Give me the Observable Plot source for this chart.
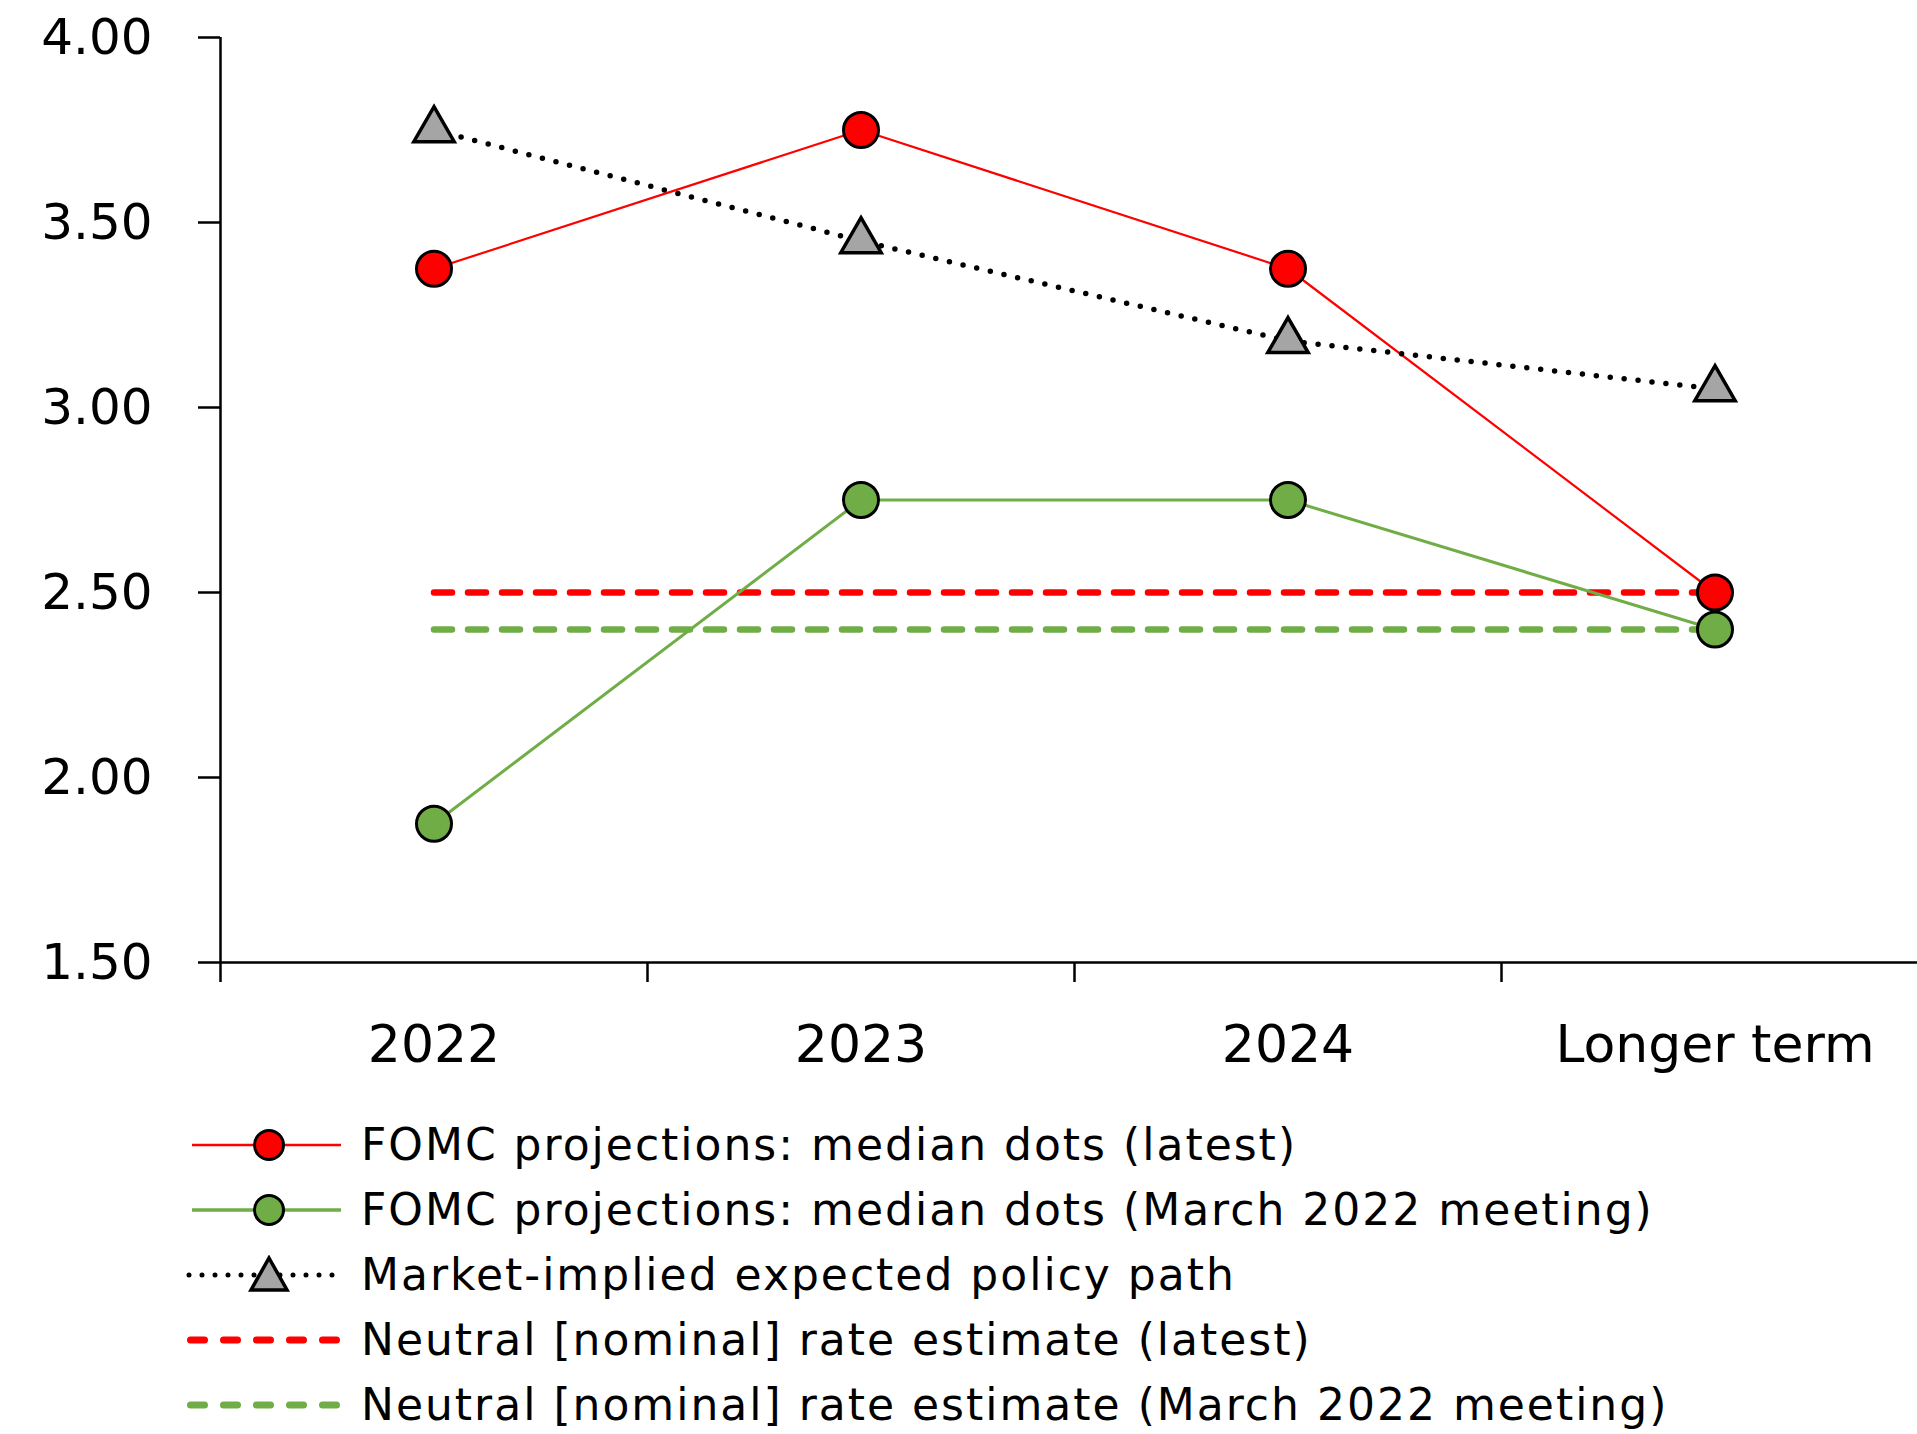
<!DOCTYPE html>
<html><head><meta charset="utf-8">
<script src="https://cdn.jsdelivr.net/npm/d3@7"></script>
<script src="https://cdn.jsdelivr.net/npm/@observablehq/plot@0.6"></script>
<style>
body{margin:0;background:#fff;font-family:"DejaVu Sans",sans-serif;color:#000;}
#legend{margin-top:12px;}
.row{display:flex;align-items:center;height:65px;}
.row svg{margin-left:186px;flex:none;}
.row span{margin-left:15px;font-size:44px;letter-spacing:2px;white-space:nowrap;}
</style></head><body>
<div id="chart"></div>
<div id="legend"></div>
<script>
const categories = ["2022", "2023", "2024", "Longer term"];
const fomcLatest = [3.375, 3.75, 3.375, 2.5];
const fomcMarch = [1.875, 2.75, 2.75, 2.4];
const marketPath = [3.75, 3.45, 3.18, 3.05];
const neutralLatest = [2.5, 2.5, 2.5, 2.5];
const neutralMarch = [2.4, 2.4, 2.4, 2.4];
const yTicks = [1.5, 2, 2.5, 3, 3.5, 4];
const legendLabels = [
  "FOMC projections: median dots (latest)",
  "FOMC projections: median dots (March 2022 meeting)",
  "Market-implied expected policy path",
  "Neutral [nominal] rate estimate (latest)",
  "Neutral [nominal] rate estimate (March 2022 meeting)"
];

const RED = "#ff0000", GREEN = "#70ad47", GRAY = "#a5a5a5";
const rows = categories.map((c, i) => ({
  cat: c, latest: fomcLatest[i], march: fomcMarch[i], market: marketPath[i],
  nLatest: neutralLatest[i], nMarch: neutralMarch[i]
}));

const W = 1917, H = 1100;
const xRange = [220, 1928];
const bw = (xRange[1] - xRange[0]) / categories.length;

const chart = Plot.plot({
  width: W, height: H,
  marginLeft: 220, marginRight: 0, marginTop: 37, marginBottom: 138,
  style: {fontFamily: "DejaVu Sans", color: "#000", background: "#fff"},
  x: {type: "band", domain: categories, range: xRange, padding: 0},
  y: {domain: [yTicks[0], yTicks[yTicks.length - 1]]},
  marks: [
    Plot.axisY(yTicks, {tickSize: 22, tickPadding: 46, tickFormat: d3.format(".2f"),
      fontSize: 50, strokeWidth: 2.5, label: null, style: {letterSpacing: "1px"}}),
    Plot.axisX({tickSize: 0, tickPadding: 63, fontSize: 52, label: null, style: {letterSpacing: "1px"}}),
    Plot.ruleY([yTicks[0]], {stroke: "#000", strokeWidth: 2.5}),
    Plot.ruleX([categories[0]], {x: d => d, y1: yTicks[yTicks.length - 1], y2: yTicks[0], dx: -bw / 2, insetBottom: -20, stroke: "#000", strokeWidth: 2.5}),
    Plot.ruleX(categories.slice(1), {x: d => d, y1: yTicks[0], y2: yTicks[0], dx: -bw / 2, insetBottom: -20, stroke: "#000", strokeWidth: 2.5}),
    Plot.line(rows, {x: "cat", y: "nLatest", stroke: RED, strokeWidth: 6.5, strokeDasharray: "18,16", strokeLinecap: "round"}),
    Plot.line(rows, {x: "cat", y: "nMarch", stroke: GREEN, strokeWidth: 6.5, strokeDasharray: "18,16", strokeLinecap: "round"}),
    Plot.line(rows, {x: "cat", y: "march", stroke: GREEN, strokeWidth: 3}),
    Plot.line(rows, {x: "cat", y: "latest", stroke: RED, strokeWidth: 2.2}),
    Plot.line(rows, {x: "cat", y: "market", stroke: "#000", strokeWidth: 5.5, strokeDasharray: "0,14", strokeLinecap: "round"}),
    Plot.dot(rows, {x: "cat", y: "market", symbol: "triangle", r: 15, fill: GRAY, stroke: "#000", strokeWidth: 3.5, strokeLinejoin: "miter"}),
    Plot.dot(rows, {x: "cat", y: "latest", r: 17.5, fill: RED, stroke: "#000", strokeWidth: 3}),
    Plot.dot(rows, {x: "cat", y: "march", r: 17.5, fill: GREEN, stroke: "#000", strokeWidth: 3})
  ]
});
document.getElementById("chart").appendChild(chart);

// Legend
const legendSymbols = [
  `<line x1="6" x2="155" y1="20" y2="20" stroke="${RED}" stroke-width="2.5"/><circle cx="83" cy="20" r="14.5" fill="${RED}" stroke="#000" stroke-width="3"/>`,
  `<line x1="6" x2="155" y1="20" y2="20" stroke="${GREEN}" stroke-width="3.5"/><circle cx="83" cy="20" r="14.5" fill="${GREEN}" stroke="#000" stroke-width="3"/>`,
  `<line x1="3" x2="155" y1="20" y2="20" stroke="#000" stroke-width="5" stroke-dasharray="0,13" stroke-linecap="round"/><path d="M83,3 L101,35 L65,35 Z" fill="${GRAY}" stroke="#000" stroke-width="3.5"/>`,
  `<line x1="4.5" x2="158" y1="20" y2="20" stroke="${RED}" stroke-width="7" stroke-dasharray="14,19" stroke-linecap="round"/>`,
  `<line x1="4.5" x2="158" y1="20" y2="20" stroke="${GREEN}" stroke-width="7" stroke-dasharray="14,19" stroke-linecap="round"/>`
];
const legend = document.getElementById("legend");
legendLabels.forEach((lab, i) => {
  const row = document.createElement("div");
  row.className = "row";
  row.innerHTML = `<svg width="160" height="40" viewBox="0 0 160 40">${legendSymbols[i]}</svg><span></span>`;
  row.querySelector("span").textContent = lab;
  legend.appendChild(row);
});
</script>
</body></html>
